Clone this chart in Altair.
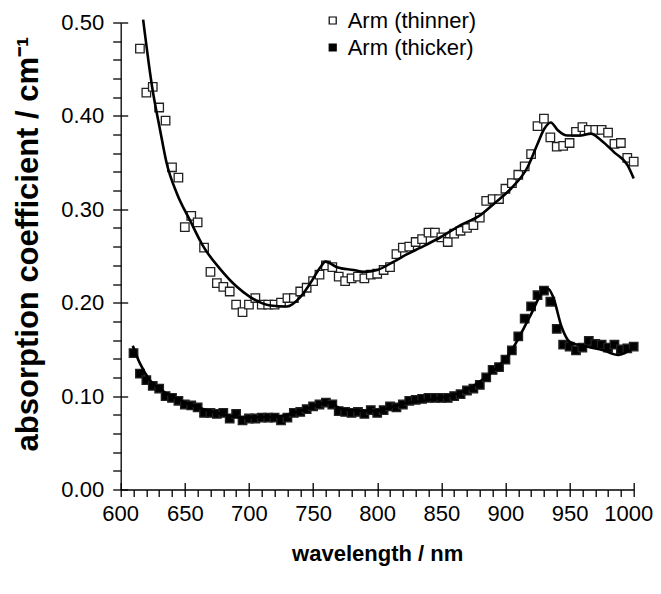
import altair as alt
import pandas as pd

# ---- data ----
series_names = ["Arm (thinner)", "Arm (thicker)"]

wl_thin = [615, 620, 625, 630, 635, 640, 645, 650, 655, 660, 665, 670, 675, 680, 685,
           690, 695, 700, 705, 710, 715, 720, 725, 730, 735, 740, 745, 750, 755, 760,
           765, 770, 775, 780, 785, 790, 795, 800, 805, 810, 815, 820, 825, 830, 835,
           840, 845, 850, 855, 860, 865, 870, 875, 880, 885, 890, 895, 900, 905, 910,
           915, 920, 925, 930, 935, 940, 945, 950, 955, 960, 965, 970, 975, 980, 985,
           990, 995, 1000]
abs_thin = [0.472, 0.425, 0.431, 0.409, 0.395, 0.345, 0.334, 0.281, 0.293, 0.286, 0.259,
            0.233, 0.221, 0.217, 0.212, 0.198, 0.190, 0.198, 0.205, 0.198, 0.198, 0.198,
            0.200, 0.205, 0.205, 0.212, 0.216, 0.223, 0.230, 0.240, 0.238, 0.228, 0.223,
            0.226, 0.228, 0.226, 0.230, 0.231, 0.235, 0.238, 0.252, 0.259, 0.260, 0.265,
            0.268, 0.275, 0.275, 0.270, 0.265, 0.274, 0.277, 0.280, 0.283, 0.291, 0.309,
            0.311, 0.311, 0.322, 0.328, 0.337, 0.346, 0.359, 0.389, 0.397, 0.377, 0.367,
            0.368, 0.371, 0.383, 0.388, 0.385, 0.385, 0.385, 0.382, 0.370, 0.371, 0.355,
            0.351]

wl_thick = [610, 615, 620, 625, 630, 635, 640, 645, 650, 655, 660, 665, 670, 675, 680,
            685, 690, 695, 700, 705, 710, 715, 720, 725, 730, 735, 740, 745, 750, 755,
            760, 765, 770, 775, 780, 785, 790, 795, 800, 805, 810, 815, 820, 825, 830,
            835, 840, 845, 850, 855, 860, 865, 870, 875, 880, 885, 890, 895, 900, 905,
            910, 915, 920, 925, 930, 935, 940, 945, 950, 955, 960, 965, 970, 975, 980,
            985, 990, 995, 1000]
abs_thick = [0.146, 0.124, 0.117, 0.111, 0.108, 0.100, 0.098, 0.095, 0.091, 0.090, 0.088,
             0.082, 0.082, 0.081, 0.082, 0.076, 0.081, 0.074, 0.076, 0.076, 0.077, 0.077,
             0.077, 0.074, 0.077, 0.082, 0.083, 0.086, 0.089, 0.091, 0.093, 0.091, 0.084,
             0.083, 0.082, 0.083, 0.081, 0.085, 0.082, 0.085, 0.089, 0.088, 0.091, 0.095,
             0.096, 0.097, 0.098, 0.098, 0.098, 0.098, 0.100, 0.102, 0.106, 0.108, 0.112,
             0.120, 0.128, 0.131, 0.139, 0.149, 0.164, 0.183, 0.196, 0.208, 0.213, 0.201,
             0.172, 0.155, 0.153, 0.149, 0.152, 0.159, 0.156, 0.155, 0.152, 0.155, 0.150,
             0.151, 0.153]

fit_thin_wl = [617.5, 624.5, 630.7, 635.9, 643.8, 654.1, 664.5, 677.6, 690.6, 701, 716.6,
               729.7, 740, 747.9, 755.7, 759.6, 768.7, 781.7, 789.5, 800, 813, 823.4,
               833.8, 848, 865, 880.7, 891.1, 904.2, 917.2, 925, 930.2, 935.4, 940.6,
               948.4, 958.8, 966.6, 974.5, 984.8, 995.3, 1000]
fit_thin_abs = [0.503, 0.431, 0.385, 0.349, 0.317, 0.288, 0.260, 0.236, 0.217, 0.206, 0.197,
                0.196, 0.206, 0.221, 0.238, 0.244, 0.238, 0.235, 0.233, 0.235, 0.244, 0.252,
                0.259, 0.269, 0.283, 0.294, 0.306, 0.322, 0.345, 0.370, 0.386, 0.393, 0.385,
                0.379, 0.379, 0.381, 0.374, 0.361, 0.347, 0.333]

fit_thick_wl = [609.4, 615, 622.8, 633.2, 648.8, 669.6, 695.5, 721.5, 742.3, 760.5, 773.5,
                797, 820.3, 846.3, 867, 885.2, 903.4, 919, 929.4, 933.3, 937.2, 943.8,
                950.2, 963.2, 976.2, 987.9, 994.4, 1000]
fit_thick_abs = [0.154, 0.135, 0.117, 0.105, 0.094, 0.084, 0.077, 0.078, 0.085, 0.093, 0.086,
                 0.084, 0.092, 0.0975, 0.105, 0.121, 0.146, 0.185, 0.212, 0.215, 0.206, 0.174,
                 0.158, 0.153, 0.149, 0.144, 0.147, 0.152]

x_major = [600, 650, 700, 750, 800, 850, 900, 950, 1000]
x_minor = [600, 610, 620, 630, 640, 650, 660, 670, 680, 690, 700, 710, 720, 730, 740, 750,
           760, 770, 780, 790, 800, 810, 820, 830, 840, 850, 860, 870, 880, 890, 900, 910,
           920, 930, 940, 950, 960, 970, 980, 990, 1000]
y_major = [0.0, 0.1, 0.2, 0.3, 0.4, 0.5]
y_minor = [0.0, 0.02, 0.04, 0.06, 0.08, 0.1, 0.12, 0.14, 0.16, 0.18, 0.2, 0.22, 0.24, 0.26,
           0.28, 0.3, 0.32, 0.34, 0.36, 0.38, 0.4, 0.42, 0.44, 0.46, 0.48, 0.5]

# ---- tables ----
pts = pd.concat([
    pd.DataFrame({"wl": wl_thin, "a": abs_thin, "series": series_names[0]}),
    pd.DataFrame({"wl": wl_thick, "a": abs_thick, "series": series_names[1]}),
])
fit_thin = pd.DataFrame({"wl": fit_thin_wl, "a": fit_thin_abs})
fit_thick = pd.DataFrame({"wl": fit_thick_wl, "a": fit_thick_abs})

FONT = "Liberation Sans"
W, H = 513, 467
xscale = alt.Scale(domain=[600, 1000], nice=False, zero=False)
yscale = alt.Scale(domain=[0, 0.5], nice=False)

# main axes: every tick outward, labels only on the major ones
xA = alt.Axis(values=x_minor, format="d", tickSize=7, labelPadding=7, labelOverlap=False,
              labelFlush=True, labelFlushOffset=19,
              labelExpr="datum.value % 50 === 0 ? datum.label : ''",
              title="wavelength / nm", titlePadding=19)
yA = alt.Axis(values=y_minor, format=".2f", tickSize=8, labelPadding=9, labelOverlap=False,
              labelFlush=False,
              labelExpr="abs(datum.value * 10 - round(datum.value * 10)) < 0.001 ? datum.label : ''",
              title="absorption coefficient / cm\u207b\u00b9", titleFontSize=31,
              titlePadding=16, titleY=221)
# second axes (placed on the opposite side, shifted back onto the main axis lines):
# inner half of the major ticks
xC = alt.Axis(values=x_major, tickSize=7, offset=-H, labels=False, domain=False, title="")
yC = alt.Axis(values=y_major, tickSize=7, offset=-W, labels=False, domain=False, title="")

points = alt.Chart(pts).mark_point(
    shape="square", filled=True, size=72, stroke="#222222", strokeWidth=1.3, opacity=1
).encode(
    x=alt.X("wl:Q", scale=xscale, axis=xA),
    y=alt.Y("a:Q", scale=yscale, axis=yA),
    fill=alt.Fill("series:N",
                  scale=alt.Scale(domain=series_names, range=["white", "black"]),
                  legend=alt.Legend(title=None, orient="none", legendX=201, legendY=-13,
                                    symbolType="square", symbolSize=49,
                                    symbolStrokeColor="black", symbolStrokeWidth=1.2,
                                    labelFontSize=22, labelFont=FONT, labelColor="black",
                                    rowPadding=5, labelOffset=4, padding=0)),
)

line_thin = alt.Chart(fit_thin).mark_line(
    color="black", strokeWidth=2.6, interpolate="monotone", clip=False
).encode(
    x=alt.X("wl:Q", scale=xscale, axis=None),
    y=alt.Y("a:Q", scale=yscale, axis=None),
)

line_thick = alt.Chart(fit_thick).mark_line(
    color="black", strokeWidth=2.6, interpolate="monotone"
).encode(
    x=alt.X("wl:Q", scale=xscale, axis=xC),
    y=alt.Y("a:Q", scale=yscale, axis=yC),
)

chart = alt.layer(points, line_thin, line_thick).resolve_axis(
    x="independent", y="independent"
).properties(
    width=W, height=H,
    autosize=alt.AutoSizeParams(type="none"),
    padding={"left": 112.7, "top": 14.5, "right": 19.3, "bottom": 96.5},
).configure_view(stroke=None).configure_axis(
    grid=False, domainColor="black", domainWidth=1.3, tickColor="black", tickWidth=1.3,
    labelFont=FONT, labelFontSize=22, labelColor="black",
    titleFont=FONT, titleFontSize=22, titleFontWeight="bold", titleColor="black",
)

chart.save("out.html", embed_options={"renderer": "svg", "actions": False})
